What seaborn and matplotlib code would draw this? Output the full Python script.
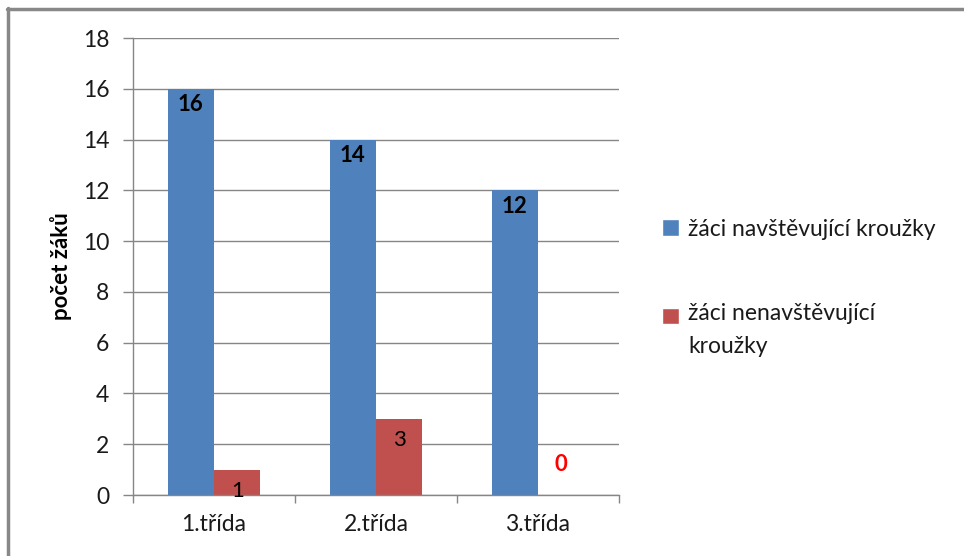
import matplotlib
matplotlib.use("Agg")
import matplotlib.pyplot as plt
import seaborn as sns
import pandas as pd
from matplotlib.lines import Line2D
from matplotlib.patches import Patch, Rectangle
from matplotlib.legend_handler import HandlerPatch

categories = ["1.třída", "2.třída", "3.třída"]
series_names = ["žáci navštěvující kroužky", "žáci nenavštěvující kroužky"]
attending = [16, 14, 12]
not_attending = [1, 3, 0]
legend_labels = ["žáci navštěvující kroužky", "žáci nenavštěvující\nkroužky"]
yticks = [0, 2, 4, 6, 8, 10, 12, 14, 16, 18]
colors = ["#4F81BD", "#C0504D"]

df = pd.DataFrame({
    "třída": categories * 2,
    "série": [series_names[0]] * 3 + [series_names[1]] * 3,
    "počet": attending + not_attending,
})

sns.set_theme(style="white")
plt.rcParams["font.family"] = ["Lato", "DejaVu Sans"]

fig = plt.figure(figsize=(9.64, 5.56), dpi=100)
ax = fig.add_axes([133 / 964, 1 - 495 / 556, (619 - 133) / 964, (495 - 38) / 556])

sns.barplot(data=df, x="třída", y="počet", hue="série", palette=colors,
            width=0.574, ax=ax, legend=False, saturation=1, edgecolor="none")

ax.set_ylim(0, 18)
ax.set_xlim(-0.5, 2.5)
ax.set_yticks(yticks)
ax.set_yticklabels([str(t) for t in yticks], fontsize=16.5, color="#1a1a1a")
ax.set_xticks(range(len(categories)))
ax.set_xticklabels(categories, fontsize=16.5, color="#1a1a1a")
ax.set_xlabel("")
ax.set_ylabel("počet žáků", fontsize=16, fontweight="bold", color="black", labelpad=8)

ax.yaxis.grid(True, color="#868686", linewidth=1)
ax.set_axisbelow(True)
for s in ["top", "right"]:
    ax.spines[s].set_visible(False)
for s in ["left", "bottom"]:
    ax.spines[s].set_color("#868686")
    ax.spines[s].set_linewidth(1)
ax.tick_params(axis="y", which="major", left=True, length=7, width=1, color="#868686", pad=10)
ax.tick_params(axis="x", which="major", bottom=False, length=0, pad=14)
ax.set_xticks([-0.5, 0.5, 1.5, 2.5], minor=True)
ax.tick_params(axis="x", which="minor", bottom=True, length=6, width=1, color="#868686")

# data labels
containers = ax.containers
for c, vals in zip(containers, [attending, not_attending]):
    for bar, v in zip(c, vals):
        xc = bar.get_x() + bar.get_width() / 2
        if v == 0:
            ax.annotate(str(v), (xc, v), xytext=(0, 22), textcoords="offset points",
                        ha="center", va="center", fontsize=16, fontweight="bold", color="red")
        elif v >= 10:
            ax.annotate(str(v), (xc, v), xytext=(0, -4), textcoords="offset points",
                        ha="center", va="top", fontsize=16, fontweight="bold", color="black")
        else:
            ax.annotate(str(v), (xc, v), xytext=(0, -8), textcoords="offset points",
                        ha="center", va="top", fontsize=16, color="black")


def make_shifted(dy):
    def f(legend, orig_handle, xdescent, ydescent, width, height, fontsize):
        return Rectangle((-xdescent, -ydescent + dy), width, height)
    return f


handles = [Patch(facecolor=colors[0]), Patch(facecolor=colors[1])]
handler_map = {handles[1]: HandlerPatch(patch_func=make_shifted(10.5))}
leg = fig.legend(handles, legend_labels, loc="upper left", bbox_to_anchor=(641 / 964, 1 - 198 / 556),
                 frameon=False, fontsize=16.5, handlelength=0.75, handleheight=0.75, handletextpad=0.4,
                 labelspacing=2.75, handler_map=handler_map)
for t in leg.get_texts():
    t.set_linespacing(1.75)
    t.set_color("#1a1a1a")

# frame lines (top and left)
fig.add_artist(Line2D([7 / 964, 1.0], [1 - 8.5 / 556, 1 - 8.5 / 556], color="#888888", linewidth=2.5))
fig.add_artist(Line2D([7.5 / 964, 7.5 / 964], [0, 1 - 8 / 556], color="#888888", linewidth=2.5))

fig.savefig("out.png", dpi=100)
